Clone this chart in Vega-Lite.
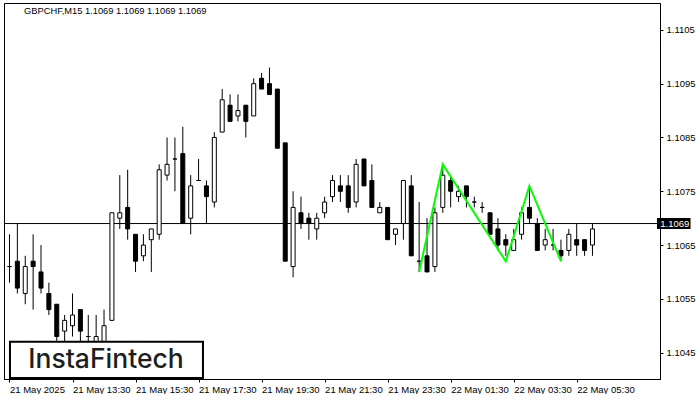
{
  "$schema": "https://vega.github.io/schema/vega-lite/v6.json",
  "width": 656,
  "height": 376,
  "padding": {"left": 3, "top": 3, "right": 0, "bottom": 0},
  "autosize": {"type": "pad"},
  "background": "white",
  "config": {
    "view": {"stroke": "black", "strokeWidth": 1},
    "font": "Liberation Sans",
    "axis": {"grid": false, "domainColor": "black", "tickColor": "black", "labelColor": "black", "labelFont": "Liberation Sans", "labelFontSize": 9.5}
  },
  "datasets": {
    "candles": [
      {"i":0,"o":1.1061,"h":1.1067,"l":1.1058,"c":1.1061},
      {"i":1,"o":1.1062,"h":1.1069,"l":1.1056,"c":1.1057},
      {"i":2,"o":1.1056,"h":1.1063,"l":1.1054,"c":1.1061},
      {"i":3,"o":1.1062,"h":1.1067,"l":1.1053,"c":1.1061},
      {"i":4,"o":1.1060,"h":1.1065,"l":1.1056,"c":1.1057},
      {"i":5,"o":1.1056,"h":1.1058,"l":1.1052,"c":1.1053},
      {"i":6,"o":1.1054,"h":1.1054,"l":1.1047,"c":1.1048},
      {"i":7,"o":1.1049,"h":1.1052,"l":1.1046,"c":1.1051},
      {"i":8,"o":1.1050,"h":1.1056,"l":1.1048,"c":1.1052},
      {"i":9,"o":1.1053,"h":1.1053,"l":1.1046,"c":1.1049},
      {"i":10,"o":1.1048,"h":1.1052,"l":1.1046,"c":1.1048},
      {"i":11,"o":1.1046,"h":1.1052,"l":1.1045,"c":1.1048},
      {"i":12,"o":1.1046,"h":1.1053,"l":1.1045,"c":1.1050},
      {"i":13,"o":1.1051,"h":1.1071,"l":1.1051,"c":1.1071},
      {"i":14,"o":1.1070,"h":1.1078,"l":1.1068,"c":1.1071},
      {"i":15,"o":1.1072,"h":1.1079,"l":1.1066,"c":1.1068},
      {"i":16,"o":1.1067,"h":1.1067,"l":1.1060,"c":1.1062},
      {"i":17,"o":1.1063,"h":1.1067,"l":1.1062,"c":1.1065},
      {"i":18,"o":1.1066,"h":1.1068,"l":1.1060,"c":1.1068},
      {"i":19,"o":1.1067,"h":1.1080,"l":1.1066,"c":1.1079},
      {"i":20,"o":1.1078,"h":1.1085,"l":1.1077,"c":1.1080},
      {"i":21,"o":1.1081,"h":1.1085,"l":1.1075,"c":1.1081},
      {"i":22,"o":1.1082,"h":1.1087,"l":1.1069,"c":1.1069},
      {"i":23,"o":1.1070,"h":1.1078,"l":1.1067,"c":1.1076},
      {"i":24,"o":1.1077,"h":1.1081,"l":1.1077,"c":1.1077},
      {"i":25,"o":1.1076,"h":1.1077,"l":1.1069,"c":1.1074},
      {"i":26,"o":1.1073,"h":1.1086,"l":1.1072,"c":1.1085},
      {"i":27,"o":1.1086,"h":1.1094,"l":1.1086,"c":1.1092},
      {"i":28,"o":1.1091,"h":1.1093,"l":1.1088,"c":1.1088},
      {"i":29,"o":1.1089,"h":1.1093,"l":1.1088,"c":1.1090},
      {"i":30,"o":1.1091,"h":1.1091,"l":1.1085,"c":1.1088},
      {"i":31,"o":1.1089,"h":1.1096,"l":1.1089,"c":1.1095},
      {"i":32,"o":1.1096,"h":1.1097,"l":1.1094,"c":1.1094},
      {"i":33,"o":1.1095,"h":1.1098,"l":1.1093,"c":1.1093},
      {"i":34,"o":1.1094,"h":1.1094,"l":1.1083,"c":1.1083},
      {"i":35,"o":1.1084,"h":1.1084,"l":1.1062,"c":1.1062},
      {"i":36,"o":1.1061,"h":1.1075,"l":1.1059,"c":1.1072},
      {"i":37,"o":1.1071,"h":1.1074,"l":1.1068,"c":1.1069},
      {"i":38,"o":1.1070,"h":1.1071,"l":1.1066,"c":1.1069},
      {"i":39,"o":1.1068,"h":1.1071,"l":1.1066,"c":1.1070},
      {"i":40,"o":1.1071,"h":1.1074,"l":1.1070,"c":1.1073},
      {"i":41,"o":1.1074,"h":1.1078,"l":1.1073,"c":1.1077},
      {"i":42,"o":1.1076,"h":1.1078,"l":1.1073,"c":1.1075},
      {"i":43,"o":1.1076,"h":1.1078,"l":1.1071,"c":1.1072},
      {"i":44,"o":1.1073,"h":1.1081,"l":1.1072,"c":1.1080},
      {"i":45,"o":1.1081,"h":1.1081,"l":1.1076,"c":1.1076},
      {"i":46,"o":1.1077,"h":1.1080,"l":1.1072,"c":1.1072},
      {"i":47,"o":1.1071,"h":1.1073,"l":1.1071,"c":1.1072},
      {"i":48,"o":1.1072,"h":1.1072,"l":1.1066,"c":1.1066},
      {"i":49,"o":1.1067,"h":1.1068,"l":1.1065,"c":1.1068},
      {"i":50,"o":1.1069,"h":1.1077,"l":1.1066,"c":1.1077},
      {"i":51,"o":1.1076,"h":1.1078,"l":1.1063,"c":1.1063},
      {"i":52,"o":1.1062,"h":1.1073,"l":1.1060,"c":1.1062},
      {"i":53,"o":1.1063,"h":1.1070,"l":1.1060,"c":1.1060},
      {"i":54,"o":1.1061,"h":1.1072,"l":1.1060,"c":1.1071},
      {"i":55,"o":1.1072,"h":1.1080,"l":1.1071,"c":1.1078},
      {"i":56,"o":1.1077,"h":1.1078,"l":1.1072,"c":1.1075},
      {"i":57,"o":1.1074,"h":1.1076,"l":1.1073,"c":1.1075},
      {"i":58,"o":1.1076,"h":1.1076,"l":1.1072,"c":1.1074},
      {"i":59,"o":1.1073,"h":1.1074,"l":1.1072,"c":1.1073},
      {"i":60,"o":1.1072,"h":1.1073,"l":1.1071,"c":1.1072},
      {"i":61,"o":1.1071,"h":1.1071,"l":1.1067,"c":1.1067},
      {"i":62,"o":1.1068,"h":1.1070,"l":1.1064,"c":1.1065},
      {"i":63,"o":1.1066,"h":1.1067,"l":1.1063,"c":1.1065},
      {"i":64,"o":1.1064,"h":1.1068,"l":1.1064,"c":1.1066},
      {"i":65,"o":1.1067,"h":1.1072,"l":1.1066,"c":1.1071},
      {"i":66,"o":1.1072,"h":1.1076,"l":1.1069,"c":1.1070},
      {"i":67,"o":1.1069,"h":1.1070,"l":1.1064,"c":1.1064},
      {"i":68,"o":1.1065,"h":1.1068,"l":1.1064,"c":1.1066},
      {"i":69,"o":1.1065,"h":1.1068,"l":1.1064,"c":1.1065},
      {"i":70,"o":1.1064,"h":1.1066,"l":1.1062,"c":1.1063},
      {"i":71,"o":1.1064,"h":1.1068,"l":1.1063,"c":1.1067},
      {"i":72,"o":1.1066,"h":1.1069,"l":1.1063,"c":1.1065},
      {"i":73,"o":1.1066,"h":1.1066,"l":1.1063,"c":1.1064},
      {"i":74,"o":1.1065,"h":1.1069,"l":1.1063,"c":1.1068}
    ],
    "pattern": [
      {"i":52,"p":1.1060,"k":0},
      {"i":55,"p":1.1080,"k":1},
      {"i":63,"p":1.1062,"k":2},
      {"i":66,"p":1.1076,"k":3},
      {"i":70,"p":1.1062,"k":4}
    ],
    "one": [{}]
  },
  "encoding": {
    "x": {
      "type": "quantitative",
      "scale": {"domain": [-0.0625, 81.9375], "nice": false, "zero": false},
      "axis": {
        "orient": "bottom",
        "title": null,
        "values": [0, 8, 16, 24, 32, 40, 48, 56, 64, 72],
        "labelExpr": "['21 May 2025','21 May 13:30','21 May 15:30','21 May 17:30','21 May 19:30','21 May 21:30','21 May 23:30','22 May 01:30','22 May 03:30','22 May 05:30'][round(datum.value/8)]",
        "tickSize": 3,
        "labelAlign": "left",
        "labelPadding": 2,
        "labelOverlap": false,
        "labelFlush": false,
        "labelBound": false
      }
    },
    "y": {
      "type": "quantitative",
      "scale": {"domain": [1.10401, 1.111], "nice": false, "zero": false},
      "axis": {
        "orient": "right",
        "title": null,
        "values": [1.1045, 1.1055, 1.1065, 1.1075, 1.1085, 1.1095, 1.1105],
        "format": ".4f",
        "tickSize": 3,
        "labelPadding": 3,
        "labelAlign": "left",
        "labelBaseline": "middle",
        "labelOverlap": false,
        "labelFlush": false
      }
    }
  },
  "layer": [
    {
      "data": {"name": "one"},
      "mark": {"type": "rule", "color": "black", "strokeWidth": 1},
      "encoding": {
        "x": null,
        "y": {"datum": 1.1069, "type": "quantitative"}
      }
    },
    {
      "data": {"name": "candles"},
      "mark": {"type": "rule", "color": "black", "strokeWidth": 1, "clip": true},
      "encoding": {
        "x": {"field": "i", "type": "quantitative"},
        "y": {"field": "l", "type": "quantitative"},
        "y2": {"field": "h"}
      }
    },
    {
      "data": {"name": "candles"},
      "mark": {"type": "bar", "width": 4, "stroke": "black", "strokeWidth": 1, "clip": true},
      "encoding": {
        "x": {"field": "i", "type": "quantitative"},
        "y": {"field": "o", "type": "quantitative"},
        "y2": {"field": "c"},
        "fill": {"condition": {"test": "datum.c < datum.o", "value": "black"}, "value": "white"}
      }
    },
    {
      "data": {"name": "pattern"},
      "mark": {"type": "line", "color": "#00ff00", "strokeWidth": 2, "clip": true},
      "encoding": {
        "x": {"field": "i", "type": "quantitative"},
        "y": {"field": "p", "type": "quantitative"},
        "order": {"field": "k"}
      }
    },
    {
      "data": {"name": "one"},
      "mark": {"type": "rect", "fill": "white", "stroke": "black", "strokeWidth": 2, "clip": true},
      "encoding": {
        "x": {"datum": 0.06, "type": "quantitative"},
        "x2": {"datum": 24.56},
        "y": {"datum": 1.104029, "type": "quantitative"},
        "y2": {"datum": 1.104703}
      }
    },
    {
      "data": {"name": "one"},
      "mark": {"type": "text", "text": "InstaFintech", "font": "Inter", "fontSize": 26.5, "fontWeight": 500, "color": "#1e1e1e", "align": "center", "baseline": "alphabetic"},
      "encoding": {
        "x": {"datum": 12.25, "type": "quantitative"},
        "y": {"datum": 1.104214, "type": "quantitative"}
      }
    },
    {
      "data": {"name": "one"},
      "mark": {"type": "text", "text": "GBPCHF,M15  1.1069 1.1069 1.1069 1.1069", "font": "Liberation Sans", "fontSize": 9.3, "color": "black", "align": "left", "baseline": "alphabetic"},
      "encoding": {
        "x": {"datum": 1.85, "type": "quantitative"},
        "y": {"datum": 1.1108, "type": "quantitative"}
      }
    },
    {
      "data": {"name": "one"},
      "mark": {"type": "rect", "fill": "black"},
      "encoding": {
        "x": {"datum": 82.19, "type": "quantitative"},
        "x2": {"datum": 86.45},
        "y": {"datum": 1.107003, "type": "quantitative"},
        "y2": {"datum": 1.106799}
      }
    },
    {
      "data": {"name": "one"},
      "mark": {"type": "text", "text": "1.1069", "font": "Liberation Sans", "fontSize": 9.5, "color": "white", "align": "left", "baseline": "middle"},
      "encoding": {
        "x": {"datum": 82.6, "type": "quantitative"},
        "y": {"datum": 1.1069, "type": "quantitative"}
      }
    }
  ]
}
